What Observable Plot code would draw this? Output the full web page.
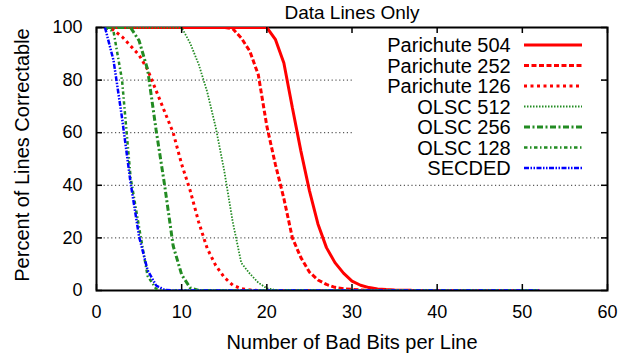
<!DOCTYPE html>
<html><head><meta charset="utf-8">
<script src="https://cdn.jsdelivr.net/npm/d3@7"></script>
<script src="https://cdn.jsdelivr.net/npm/@observablehq/plot@0.6"></script>
<style>
body{margin:0;background:#fff;font-family:"Liberation Sans",Arial,Helvetica,sans-serif;}
#wrap{position:relative;width:620px;height:360px;}
#legend{position:absolute;left:352px;top:34px;width:248px;height:145px;background:#fff;}
</style></head><body><div id="wrap"></div>
<script>
// ---- data ----
const title = "Data Lines Only";
const xLabel = "Number of Bad Bits per Line";
const yLabel = "Percent of Lines Correctable";
const xTicks = [0, 10, 20, 30, 40, 50, 60];
const yTicks = [0, 20, 40, 60, 80, 100];
const gridTicks = [20, 40, 60, 80];
const firstBit = 1;   // values below start at 1 bad bit
const lastBit = 52;   // all series stay at 0 up to here

const seriesNames = ["Parichute 504", "Parichute 252", "Parichute 126", "OLSC 512", "OLSC 256", "OLSC 128", "SECDED"];

const parichute504 = [100,100,100,100,100,100,100,100,100,100,100,100,100,100,100,100,100,100,100,100,
  95.5,86.5,69.5,53,38,25.3,16.3,10.6,6.6,3.6,2.0,1.1,0.6,0.35,0.2,0.1,0.05,0.03,0.01,0];
const parichute252 = [100,100,100,100,100,100,100,100,100,100,100,100,100,100,100,
  99.5,96,91,82,62.5,48,35,20,12.5,7,4,2.3,1.2,0.7,0.4,0.2,0.1,0];
const parichute126 = [100,99,96.5,93,89.5,84,76,68,60,48,38,26,16,9.5,5,2,0.7,0.2,0];
const olsc512 = [100,100,100,100,100,100,100,100,100,100,94,86,75.5,62,45.5,26,10.5,6.4,3,0.8,0.2,0];
const olsc256 = [100,100,100,100,95,84,61,40,17,6,1,0];
const olsc128 = [100,98.5,80,43,24,5.5,0.6,0];
const secded = [100,87.5,65.6,41,20.5,7.7,1.9,0.2,0];

const seriesValues = [parichute504, parichute252, parichute126, olsc512, olsc256, olsc128, secded];

// ---- styles ----
const RED = "#ff0000", GREEN = "#228b22", BLUE = "#0000ff";
const seriesColors = [RED, RED, RED, GREEN, GREEN, GREEN, BLUE];
const seriesDash = [null, "5,2.5", "3,3.5", "1.5,1.5", "6,2.5,2,2.5", "3.5,2.5,1.5,2.5", "5,1.5,1.5,1.5,1.5,1.5"];
const seriesWidth = [3, 3, 3, 1.8, 3, 2.5, 2.5];

// ---- build table ----
const rows = [];
seriesNames.forEach((name, s) => {
  seriesValues[s].forEach((v, i) => rows.push({series: name, bit: firstBit + i, pct: v}));
  rows.push({series: name, bit: lastBit, pct: 0});
});

const W = 620, H = 360, ML = 96, MR = 13, MT = 27, MB = 70;
const innerW = W - ML - MR, innerH = H - MT - MB, tick = 6;
const font = "Liberation Sans, Arial, Helvetica, sans-serif";

const lineMarks = seriesNames.map((name, s) =>
  Plot.line(rows.filter(d => d.series === name), {
    x: "bit", y: "pct", stroke: seriesColors[s], strokeWidth: seriesWidth[s], clip: true,
    strokeDasharray: seriesDash[s] || undefined, strokeLinejoin: "miter", strokeLinecap: "butt"
  }));

const chart = Plot.plot({
  width: W, height: H, marginLeft: ML, marginRight: MR, marginTop: MT, marginBottom: MB,
  style: {fontFamily: font, background: "white", color: "black"},
  x: {domain: [0, 60]},
  y: {domain: [0, 100]},
  marks: [
    Plot.ruleY(gridTicks, {stroke: "#333", strokeWidth: 1, strokeDasharray: "1.2,2.6"}),
    Plot.frame({stroke: "black", strokeWidth: 2}),
    ...lineMarks,
    Plot.ruleX(xTicks, {x: d => d, insetTop: innerH - tick, stroke: "black", strokeWidth: 1.5}),
    Plot.ruleX(xTicks, {x: d => d, insetBottom: innerH - tick, stroke: "black", strokeWidth: 1.5}),
    Plot.ruleY(yTicks, {y: d => d, insetRight: innerW - tick, stroke: "black", strokeWidth: 1.5}),
    Plot.ruleY(yTicks, {y: d => d, insetLeft: innerW - tick, stroke: "black", strokeWidth: 1.5}),
    Plot.axisX({ticks: xTicks, tickSize: 0, tickPadding: 15, fontSize: 18, label: null}),
    Plot.axisY({ticks: yTicks, tickSize: 0, tickPadding: 14, fontSize: 18, label: null}),
    Plot.text([title], {text: d => d, frameAnchor: "top", lineAnchor: "middle", dy: -15, fontSize: 19}),
    Plot.text([xLabel], {text: d => d, frameAnchor: "bottom", lineAnchor: "middle", dy: 52, fontSize: 20}),
    Plot.text([yLabel], {text: d => d, frameAnchor: "left", textAnchor: "middle", lineAnchor: "middle", dx: -74, dy: -4, rotate: -90, fontSize: 20})
  ]
});

const wrap = document.getElementById("wrap");
wrap.appendChild(chart);

// ---- legend (key box, gnuplot style) ----
const leg = document.createElement("div");
leg.id = "legend";
wrap.appendChild(leg);
const lsvg = d3.select(leg).append("svg").attr("width", 248).attr("height", 145)
  .style("font-family", font);
const rowY0 = 11, rowStep = 20.5, textRight = 158.7, sampleX1 = 172, sampleX2 = 230;
seriesNames.forEach((name, s) => {
  const y = rowY0 + s * rowStep;
  lsvg.append("text").attr("x", textRight).attr("y", y).attr("dy", "0.35em")
    .attr("text-anchor", "end").attr("font-size", 20).attr("fill", "black").text(name);
  lsvg.append("line").attr("x1", sampleX1).attr("x2", sampleX2).attr("y1", y).attr("y2", y)
    .attr("stroke", seriesColors[s]).attr("stroke-width", seriesWidth[s])
    .attr("stroke-dasharray", seriesDash[s]);
});
</script>
</body></html>
